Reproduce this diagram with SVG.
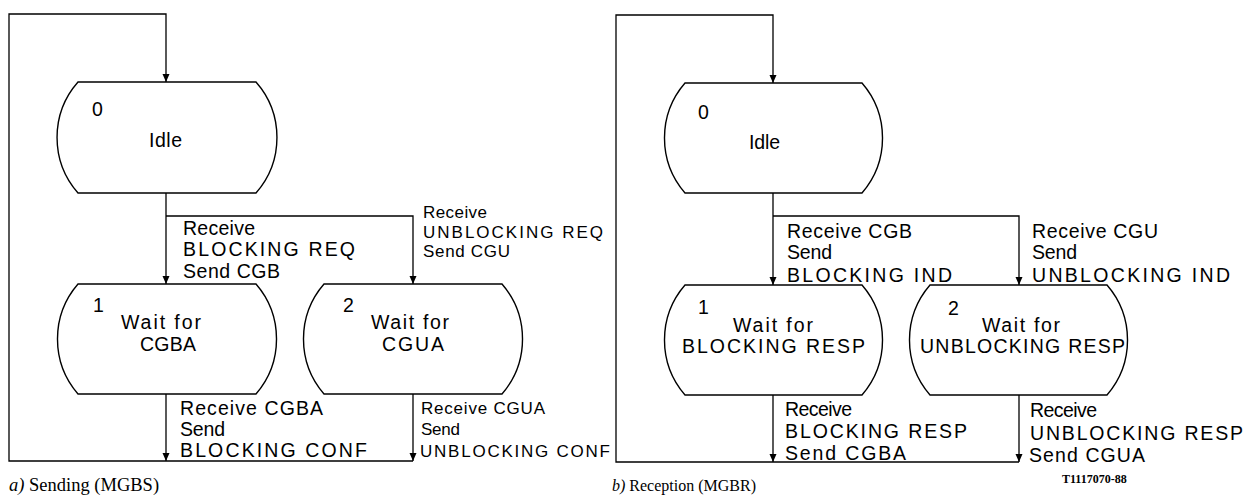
<svg xmlns="http://www.w3.org/2000/svg" width="1255" height="498" viewBox="0 0 1255 498">
<style>
.st{fill:#fff;stroke:#000;stroke-width:1.4}
.cn{fill:none;stroke:#000;stroke-width:1.3;marker-end:url(#ah)}
.t{font-family:"Liberation Sans",Arial,sans-serif;font-size:19.5px;fill:#000}
.s{font-size:17px}
.m{text-anchor:middle}
.cap{font-family:"Liberation Serif","Times New Roman",serif;font-size:17px;fill:#000}
.ca{font-size:18.5px}
.cb{font-size:16px}
.id{font-family:"Liberation Serif","Times New Roman",serif;font-size:12px;font-weight:bold;fill:#000}
</style>
<defs>
<marker id="ah" markerUnits="userSpaceOnUse" markerWidth="9" markerHeight="8" refX="8" refY="3.5" orient="auto">
<path d="M0,0 L8,3.5 L0,7 Z" fill="#000"/>
</marker>
</defs>

<g id="connectors">
<path class="cn" d="M413,461 H9 V14 H166 V82"/>
<path class="cn" d="M166,193 V284"/>
<path class="cn" d="M166,216 H413 V284"/>
<path class="cn" d="M166,394 V461"/>
<path class="cn" d="M413,394 V461"/>
<path class="cn" d="M1019,462 H616 V15 H773 V83"/>
<path class="cn" d="M773,193 V285"/>
<path class="cn" d="M773,216 H1019 V285"/>
<path class="cn" d="M773,395 V462"/>
<path class="cn" d="M1019,395 V462"/>
</g>

<g id="a-state0">
<path class="st" d="M78,82 H256 A84,84 0 0 1 256,193 H78 A84,84 0 0 1 78,82 Z"/>
<text class="t" x="92" y="116">0</text>
<text class="t" x="149" y="147" textLength="33" lengthAdjust="spacing">Idle</text>
</g>
<g id="a-state1">
<path class="st" d="M78,284 H256 A84,84 0 0 1 256,394 H78 A84,84 0 0 1 78,284 Z"/>
<text class="t" x="93" y="312">1</text>
<text class="t m" x="161" y="329" textLength="80" lengthAdjust="spacing">Wait for</text>
<text class="t m" x="168" y="351" textLength="56" lengthAdjust="spacing">CGBA</text>
</g>
<g id="a-state2">
<path class="st" d="M324,284 H502 A84,84 0 0 1 502,394 H324 A84,84 0 0 1 324,284 Z"/>
<text class="t" x="343" y="312">2</text>
<text class="t m" x="410" y="329" textLength="78" lengthAdjust="spacing">Wait for</text>
<text class="t m" x="413" y="351" textLength="62" lengthAdjust="spacing">CGUA</text>
</g>

<g id="a-labels">
<text class="t" x="183" y="235" textLength="72" lengthAdjust="spacing">Receive</text>
<text class="t" x="183" y="256" textLength="172" lengthAdjust="spacing">BLOCKING REQ</text>
<text class="t" x="183" y="278" textLength="97" lengthAdjust="spacing">Send CGB</text>
<text class="t s" x="423" y="218" textLength="64" lengthAdjust="spacing">Receive</text>
<text class="t s" x="423" y="238" textLength="180" lengthAdjust="spacing">UNBLOCKING REQ</text>
<text class="t s" x="423" y="257" textLength="87" lengthAdjust="spacing">Send CGU</text>
<text class="t" x="180" y="415" textLength="143" lengthAdjust="spacing">Receive CGBA</text>
<text class="t" x="180" y="436" textLength="45" lengthAdjust="spacing">Send</text>
<text class="t" x="180" y="457" textLength="187" lengthAdjust="spacing">BLOCKING CONF</text>
<text class="t s" x="421" y="414" textLength="124" lengthAdjust="spacing">Receive CGUA</text>
<text class="t s" x="421" y="435" textLength="39" lengthAdjust="spacing">Send</text>
<text class="t s" x="420" y="457" textLength="190" lengthAdjust="spacing">UNBLOCKING CONF</text>
<text class="cap ca" x="9" y="491"><tspan font-style="italic">a)</tspan> Sending (MGBS)</text>
</g>

<g id="b-state0">
<path class="st" d="M685,83 H862 A84,84 0 0 1 862,193 H685 A84,84 0 0 1 685,83 Z"/>
<text class="t" x="698" y="119">0</text>
<text class="t" x="749" y="149" textLength="31" lengthAdjust="spacing">Idle</text>
</g>
<g id="b-state1">
<path class="st" d="M685,285 H862 A84,84 0 0 1 862,395 H685 A84,84 0 0 1 685,285 Z"/>
<text class="t" x="698" y="314">1</text>
<text class="t" x="733" y="332" textLength="80" lengthAdjust="spacing">Wait for</text>
<text class="t" x="682" y="353" textLength="183" lengthAdjust="spacing">BLOCKING RESP</text>
</g>
<g id="b-state2">
<path class="st" d="M930,285 H1107 A84,84 0 0 1 1107,395 H930 A84,84 0 0 1 930,285 Z"/>
<text class="t" x="948" y="315">2</text>
<text class="t" x="982" y="332" textLength="78" lengthAdjust="spacing">Wait for</text>
<text class="t" x="920" y="353" textLength="205" lengthAdjust="spacing">UNBLOCKING RESP</text>
</g>

<g id="b-labels">
<text class="t" x="787" y="238" textLength="125" lengthAdjust="spacing">Receive CGB</text>
<text class="t" x="787" y="259" textLength="45" lengthAdjust="spacing">Send</text>
<text class="t" x="787" y="282" textLength="165" lengthAdjust="spacing">BLOCKING IND</text>
<text class="t" x="1032" y="238" textLength="126" lengthAdjust="spacing">Receive CGU</text>
<text class="t" x="1032" y="259" textLength="45" lengthAdjust="spacing">Send</text>
<text class="t" x="1032" y="282" textLength="198" lengthAdjust="spacing">UNBLOCKING IND</text>
<text class="t" x="785" y="416" textLength="67" lengthAdjust="spacing">Receive</text>
<text class="t" x="785" y="438" textLength="182" lengthAdjust="spacing">BLOCKING RESP</text>
<text class="t" x="785" y="460" textLength="121" lengthAdjust="spacing">Send CGBA</text>
<text class="t" x="1030" y="417" textLength="67" lengthAdjust="spacing">Receive</text>
<text class="t" x="1030" y="440" textLength="213" lengthAdjust="spacing">UNBLOCKING RESP</text>
<text class="t" x="1029" y="462" textLength="116" lengthAdjust="spacing">Send CGUA</text>
<text class="cap cb" x="612" y="491"><tspan font-style="italic">b)</tspan> Reception (MGBR)</text>
<text class="id" x="1062" y="483">T1117070-88</text>
</g>
</svg>
